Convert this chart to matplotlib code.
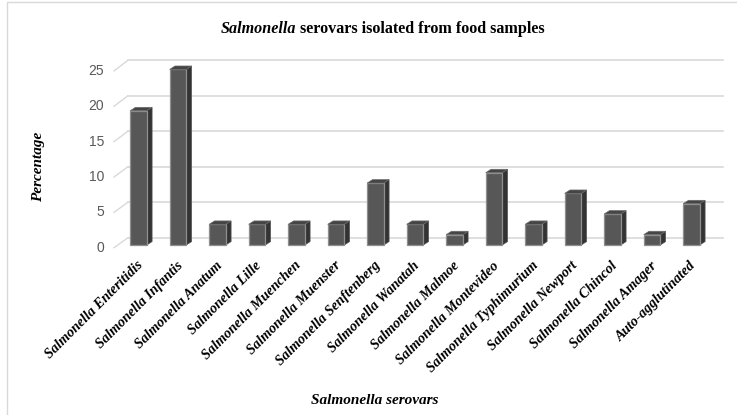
import matplotlib
matplotlib.use("Agg")
import matplotlib.pyplot as plt
from matplotlib.patches import Polygon, Rectangle
import numpy as np

categories = ["Salmonella Enteritidis", "Salmonella Infantis", "Salmonella Anatum",
              "Salmonella Lille", "Salmonella Muenchen", "Salmonella Muenster",
              "Salmonella Senftenberg", "Salmonella Wanatah", "Salmonella Malmoe",
              "Salmonella Montevideo", "Salmonella Typhimurium", "Salmonella Newport",
              "Salmonella Chincol", "Salmonella Amager", "Auto-agglutinated"]
values = [18.57, 24.29, 2.86, 2.86, 2.86, 2.86, 8.57, 2.86, 1.43,
          10.0, 2.86, 7.14, 4.29, 1.43, 5.71]
yticks = [0, 5, 10, 15, 20, 25]

W, H = 737, 415
fig = plt.figure(figsize=(W / 100, H / 100), dpi=100)
SERIF = ["Liberation Serif", "DejaVu Serif"]

# axes placed in pixel space
L, R, T, B = 80, 737, 50, 262
ax = fig.add_axes([L / W, (H - B) / H, (R - L) / W, (B - T) / H])
ax.axis("off")

px_per_cat = 39.5
x0_px = 138.5
base_px = 245.0
px_per_unit = 7.23
ax.set_xlim((L - x0_px) / px_per_cat, (R - x0_px) / px_per_cat)
ax.set_ylim((base_px - B) / px_per_unit, (base_px - T) / px_per_unit)

n = len(values)
xs = np.arange(n)

# back wall gridlines and front perspective connectors
def back_y(v):
    return (base_px - 237.7 + 7.1 * v) / px_per_unit

def front_y(v):
    return (base_px - 247.7 + 7.07 * v) / px_per_unit

xb0 = (128 - x0_px) / px_per_cat
xb1 = (722.7 - x0_px) / px_per_cat
xf = (114 - x0_px) / px_per_cat
xl = (104 - x0_px) / px_per_cat
grid_c = "#d9d9d9"
for v in yticks:
    ax.plot([xb0, xb1], [back_y(v), back_y(v)], color=grid_c, lw=1.2, zorder=1, clip_on=False)
    ax.plot([xf, xb0], [front_y(v), back_y(v)], color=grid_c, lw=1.0, zorder=1, clip_on=False)
    ax.text(xl, front_y(v), str(v), ha="right", va="center", fontsize=10,
            color="#595959", family=["Liberation Sans", "DejaVu Sans"])

# 3D-looking bars
w = 0.42
dx = 5.3 / px_per_cat
dy = 3.4 / px_per_unit
ax.bar(xs, values, width=w, color="#575757", edgecolor="#8f8f8f", linewidth=0.9, zorder=3)
for xi, v in zip(xs, values):
    xr = xi + w / 2
    xlft = xi - w / 2
    side = Polygon([(xr, 0), (xr + dx, dy), (xr + dx, v + dy), (xr, v)],
                   closed=True, facecolor="#333333", edgecolor="#555555", lw=0.5, zorder=2)
    top = Polygon([(xlft, v), (xr, v), (xr + dx, v + dy), (xlft + dx, v + dy)],
                  closed=True, facecolor="#454545", edgecolor="#6a6a6a", lw=0.5, zorder=4)
    ax.add_patch(side)
    ax.add_patch(top)

# category labels
lab_y = (base_px - 259) / px_per_unit
for xi, c in zip(xs, categories):
    ax.text(xi - 0.05, lab_y, c, rotation=45, ha="right", va="top", rotation_mode="anchor",
            fontsize=10.3, fontweight="bold", fontstyle="italic", family=SERIF, clip_on=False)

# border
fig.patches.append(Rectangle((7 / W, -0.05), 1.1, (H - 2) / H + 0.05, transform=fig.transFigure,
                             fill=False, edgecolor="#d9d9d9", lw=1.0))

# title (mixed italic / upright)
fig.canvas.draw()
r = fig.canvas.get_renderer()
t1 = fig.text(0, 1 - 29 / H, "Salmonella", fontsize=11.6, fontweight="bold", fontstyle="italic",
              family=SERIF, va="center", ha="left")
t2 = fig.text(0, 1 - 29 / H, " serovars isolated from food samples", fontsize=11.6,
              fontweight="bold", family=SERIF, va="center", ha="left")
w1 = t1.get_window_extent(r).width
w2 = t2.get_window_extent(r).width
start = 383 - (w1 + w2) / 2
t1.set_x(start / W)
t2.set_x((start + w1) / W)

fig.text(39 / W, 1 - 167 / H, "Percentage", rotation=90, ha="center", va="center",
         fontsize=11, fontweight="bold", fontstyle="italic", family=SERIF)
fig.text(375 / W, 1 - 400 / H, "Salmonella serovars", ha="center", va="center",
         fontsize=11, fontweight="bold", fontstyle="italic", family=SERIF)

fig.savefig("out.png", dpi=100)
